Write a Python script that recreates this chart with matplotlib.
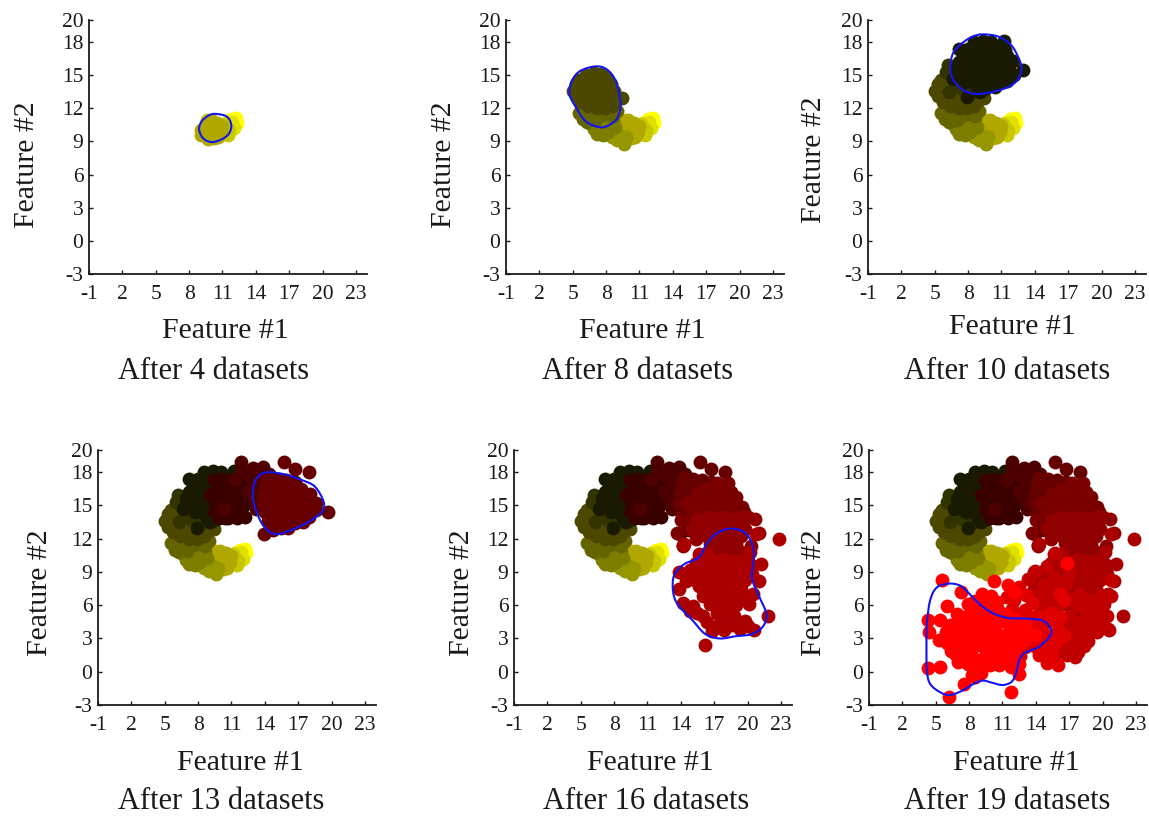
"""Six scatter panels showing how the tracked cluster drifts as datasets arrive."""
import matplotlib

matplotlib.use("Agg")
import matplotlib.pyplot as plt
from matplotlib.patches import PathPatch
from matplotlib.path import Path

plt.rcParams["font.family"] = ["Liberation Serif", "DejaVu Serif"]
plt.rcParams["axes.unicode_minus"] = False

FIG_W, FIG_H = 1149, 817
_TEXT_COLOR = "#1a1a1a"
_CURVE_COLOR = "#1414f0"

X_TICKS = [-1, 2, 5, 8, 11, 14, 17, 20, 23]
Y_TICKS = [-3, 0, 3, 6, 9, 12, 15, 18, 20]

STAGE_COLORS = [
    "#ffff00", "#e0e000", "#c8c800", "#b0a800", "#969600", "#7d7d00", "#656500",
    "#4d4800", "#333300", "#1a1a00", "#3a0000", "#4d0000", "#660000", "#7a0000",
    "#900000", "#aa0000", "#c00000", "#e00000", "#ff0000",
]

STAGE_01 = [(12.2, 11.1), (12.1, 10.9), (11.8, 11.0), (12.3, 10.7)]
STAGE_02 = [(11.9, 10.8), (12.0, 10.2), (11.6, 9.9), (11.3, 10.7), (11.8, 10.5)]
STAGE_03 = [(11.6, 10.0), (11.1, 9.9), (11.5, 9.6), (10.7, 10.5), (11.1, 10.6), (10.6, 9.8), (9.6, 10.9)]
STAGE_04 = [
    (9.1, 10.0), (9.5, 10.6), (10.0, 10.9), (10.5, 10.7), (11.0, 10.4), (10.9, 9.9), (10.6, 9.4),
    (10.2, 9.3), (9.6, 9.4), (9.9, 10.0), (10.5, 10.0), (9.1, 9.6), (9.7, 9.2),
]
STAGE_05 = [
    (9.6, 8.8), (9.0, 9.1), (8.5, 9.4), (9.8, 9.4), (8.9, 9.7), (8.3, 9.7), (9.3, 9.5),
]
STAGE_06 = [
    (7.7, 9.6), (7.2, 9.7), (6.9, 10.1), (8.2, 9.9), (8.8, 10.3), (7.5, 10.4), (8.0, 10.6),
    (6.6, 10.6), (7.1, 11.0), (8.6, 10.9), (7.8, 11.0),
]
STAGE_07 = [
    (5.6, 11.6), (5.9, 11.0), (6.3, 10.8), (7.0, 10.9), (7.5, 11.4), (8.2, 11.5), (9.0, 11.8),
    (8.6, 11.3), (6.5, 11.6), (6.9, 12.0), (7.7, 12.0), (6.2, 11.3),
]
STAGE_08 = [
    (5.0, 13.6), (5.3, 14.2), (5.6, 14.6), (6.2, 15.0), (6.9, 15.2), (7.5, 15.1), (8.0, 14.8),
    (8.4, 14.2), (8.7, 13.6), (9.4, 12.9), (8.8, 12.6), (8.5, 12.2), (7.9, 12.0), (7.2, 12.0),
    (6.4, 12.2), (5.7, 12.6), (5.3, 13.1), (6.0, 13.5), (6.8, 13.5), (7.6, 13.4), (6.4, 14.3),
    (7.2, 14.4), (6.6, 12.8), (7.5, 12.7), (8.0, 13.5), (7.9, 12.9), (5.5, 13.9), (7.0, 13.0),
    (6.1, 12.7), (7.8, 14.2), (5.9, 14.1), (8.4, 13.0),
]
STAGE_09 = [(6.3, 13.5), (7.4, 13.8), (6.2, 15.9), (6.7, 15.2), (7.5, 14.2), (8.4, 13.5), (6.0, 15.3)]
STAGE_10 = [
    (8.5, 18.0), (9.3, 18.1), (10.1, 18.0), (11.2, 18.1),
    (7.2, 17.4), (8.0, 17.4), (8.8, 17.5), (9.6, 17.4), (10.4, 17.5), (11.3, 17.3),
    (7.5, 16.8), (8.3, 16.8), (9.1, 16.9), (9.9, 16.8), (10.7, 16.8), (11.5, 16.7),
    (7.2, 16.2), (8.0, 16.2), (8.8, 16.2), (9.6, 16.2), (10.4, 16.2), (11.2, 16.1), (12.0, 16.3),
    (6.9, 15.6), (7.7, 15.6), (8.5, 15.6), (9.3, 15.6), (10.1, 15.6), (10.9, 15.6), (11.7, 15.6),
    (12.95, 15.5), (7.2, 15.0), (8.0, 15.0), (8.8, 15.0), (9.6, 15.0), (10.4, 15.0), (11.2, 15.0),
    (12.1, 15.0), (7.7, 14.4), (8.5, 14.4), (9.3, 14.4), (10.1, 14.4), (10.9, 14.4), (11.5, 14.5),
    (8.8, 13.9), (9.6, 13.8), (10.4, 13.9), (7.9, 13.0), (6.6, 14.7), (9.1, 13.5),
]
STAGE_11 = [
    (9.4, 17.3), (10.2, 17.4), (11.0, 17.3), (11.8, 17.2), (12.5, 17.2),
    (9.8, 16.6), (10.6, 16.6), (11.4, 16.6), (12.2, 16.6),
    (9.1, 15.9), (9.9, 15.9), (10.7, 15.9), (11.5, 15.9), (12.3, 15.9),
    (9.6, 15.2), (10.4, 15.2), (11.2, 15.2), (12.0, 15.2),
    (9.5, 14.5), (10.3, 14.5), (11.1, 14.5), (11.9, 14.5),
    (9.9, 13.9), (10.7, 13.9), (11.5, 13.9), (12.2, 14.0),
]
STAGE_12 = [
    (11.9, 18.9), (12.9, 18.4), (13.8, 18.5), (11.9, 18.1), (12.7, 17.7), (13.5, 17.7), (14.4, 17.8),
    (11.3, 17.3), (13.1, 17.0), (13.9, 17.0), (14.7, 17.2), (12.5, 16.3), (13.3, 16.2), (14.1, 16.2),
    (14.9, 16.4), (15.8, 17.0), (13.0, 15.5), (13.8, 15.4), (14.6, 15.5), (15.4, 15.5), (10.3, 14.7),
    (13.2, 14.7), (14.0, 14.7),
]
STAGE_13 = [
    (15.7, 18.9), (16.7, 18.3), (18.0, 18.0), (14.3, 17.5), (15.1, 17.4), (15.9, 17.3), (16.7, 17.1),
    (14.1, 16.8), (14.9, 16.7), (15.7, 16.6), (16.5, 16.4), (17.3, 16.5), (18.1, 16.0), (13.9, 16.0),
    (14.7, 15.9), (15.5, 15.8), (16.3, 15.7), (17.1, 15.7), (17.9, 15.4), (18.6, 15.2), (13.8, 15.2),
    (14.6, 15.1), (15.4, 15.0), (16.2, 15.0), (17.0, 14.9), (17.8, 14.7), (18.6, 14.6), (19.7, 14.4),
    (14.0, 14.4), (14.8, 14.3), (15.6, 14.2), (16.4, 14.2), (17.2, 14.1), (18.0, 14.0), (14.3, 13.6),
    (15.1, 13.5), (15.9, 13.5), (16.7, 13.4), (17.4, 13.5), (14.7, 12.8), (13.9, 12.4), (15.5, 13.0),
    (16.1, 13.0),
]
STAGE_14 = [
    (18.2, 17.0), (19.0, 15.8), (19.5, 14.9), (17.3, 17.0), (16.3, 16.5), (15.5, 16.0), (17.0, 16.0),
    (17.8, 16.0), (18.5, 16.2), (14.5, 15.2), (15.3, 15.0), (16.1, 15.2), (16.9, 15.2), (17.7, 15.1),
    (18.4, 15.0), (15.0, 14.4), (15.8, 14.4), (16.6, 14.5), (17.4, 14.5), (18.2, 14.3), (15.3, 13.6),
    (16.1, 13.6), (13.7, 12.5), (14.9, 13.0), (14.2, 11.4), (14.0, 13.7),
]
STAGE_15 = [
    (20.0, 14.0), (20.7, 13.8), (19.4, 14.0), (18.7, 13.8), (17.9, 14.0), (17.1, 13.9), (16.4, 14.0),
    (15.5, 13.7), (15.0, 12.9), (15.8, 13.0), (16.6, 13.1), (17.4, 13.2), (18.2, 13.1), (19.0, 13.0),
    (19.8, 12.9), (21.0, 12.5), (15.4, 12.0), (16.2, 12.3), (17.0, 12.4), (17.8, 12.4), (18.6, 12.3),
    (19.4, 12.2), (14.2, 11.3), (16.6, 11.6), (17.4, 11.7), (18.2, 11.6), (19.0, 11.5), (20.3, 11.3),
    (15.8, 10.5), (17.0, 11.0), (17.8, 10.9), (18.6, 10.8), (19.4, 10.8),
]
STAGE_16 = [
    (22.8, 12.0), (17.0, 10.0), (17.8, 10.2), (18.6, 10.0), (19.4, 10.0), (20.2, 10.8), (21.2, 9.7),
    (20.2, 9.7), (13.8, 9.0), (14.8, 9.2), (15.6, 9.1), (16.4, 9.2), (17.2, 9.2), (18.0, 9.3),
    (18.8, 9.2), (19.6, 9.1), (15.8, 8.3), (16.6, 8.4), (17.4, 8.5), (18.2, 8.5), (19.0, 8.4),
    (19.8, 8.3), (21.0, 8.2), (13.8, 7.5), (16.2, 7.6), (17.0, 7.7), (17.8, 7.7), (18.6, 7.6),
    (19.4, 7.5), (16.0, 6.8), (16.8, 6.9), (17.6, 6.9), (18.4, 6.8), (19.2, 6.8), (20.0, 6.7),
    (14.2, 6.2), (15.1, 5.9), (16.6, 6.1), (17.4, 6.1), (18.2, 6.0), (19.0, 6.0), (20.1, 6.1),
    (14.8, 5.5), (16.0, 5.0), (17.3, 5.3), (18.1, 5.2), (18.8, 5.0), (19.8, 4.6), (21.8, 5.0),
    (17.5, 4.4), (17.9, 3.8), (20.6, 3.8), (16.2, 2.4), (14.5, 8.2), (15.3, 8.3), (15.5, 5.3),
    (16.4, 4.5), (16.8, 3.7), (18.6, 4.2), (19.3, 3.9), (20.0, 4.1), (20.5, 7.0), (20.4, 8.8),
    (15.4, 9.8), (16.0, 10.0), (16.4, 10.6), (15.6, 7.7), (20.8, 12.4), (14.3, 11.5), (15.6, 10.6),
]
STAGE_17 = [
    (20.8, 8.3), (20.5, 3.9), (19.9, 6.9), (20.0, 6.0), (18.7, 2.8), (17.8, 1.8), (17.5, 1.3),
    (16.6, 2.5), (13.3, 8.4), (13.9, 9.1), (15.0, 9.5), (15.7, 10.7), (14.7, 7.8), (13.9, 7.0),
    (15.0, 7.0), (16.0, 7.5), (17.0, 8.8), (18.0, 7.0), (19.0, 6.5), (16.0, 6.0), (17.0, 5.0),
    (18.0, 4.5), (19.0, 4.8), (17.0, 3.5), (18.0, 3.0), (19.5, 4.5), (14.5, 5.5), (15.5, 4.8),
    (17.7, 6.1), (17.0, 6.6), (18.6, 5.6), (17.6, 3.9), (16.4, 4.2), (15.3, 6.2), (14.3, 6.4),
    (18.4, 3.6), (16.9, 2.8), (17.3, 2.3), (16.0, 1.8), (16.7, 7.9), (15.6, 8.5), (15.8, 5.7),
    (18.3, 5.8), (19.3, 5.4), (19.5, 3.6), (16.0, 3.0), (16.8, 1.5), (18.3, 2.3), (17.6, 2.8),
    (18.9, 3.8), (20.4, 5.0), (20.8, 6.8),
]
STAGE_18 = [
    (13.1, 6.9), (16.2, 7.0), (16.5, 6.5), (12.0, 6.5), (13.0, 5.6), (14.0, 5.0), (15.0, 4.5),
    (16.0, 3.8), (15.2, 3.2), (14.0, 4.2), (13.3, 3.5), (15.0, 2.2), (14.0, 2.2), (16.5, 3.2),
    (12.0, 4.5), (13.0, 2.2), (14.3, 1.5), (15.5, 1.6), (12.6, 1.4), (16.0, 0.6), (15.0, 0.8),
    (11.9, 5.7), (12.5, 5.0), (13.5, 4.9), (14.7, 4.9), (15.4, 5.3), (16.2, 4.9), (14.6, 3.7),
    (13.5, 2.9), (14.5, 2.8), (15.8, 2.7), (12.5, 7.6), (13.7, 6.2), (11.4, 6.7),
]
STAGE_19 = [
    (5.55, 8.3), (10.2, 8.2), (7.3, 7.2), (6.0, 5.95), (9.2, 7.0), (10.0, 6.85), (4.3, 4.7),
    (5.4, 4.7), (4.4, 3.6), (4.3, 0.3), (5.4, 0.45), (6.2, -2.3), (11.8, -1.8), (7.5, -1.1),
    (8.3, -0.3), (11.5, 7.8), (12.5, 0.7), (12.5, -0.2), (16.8, 9.8), (12.0, 7.2),
    (5.3, 2.9), (5.9, 3.6), (6.3, 4.2), (6.9, 5.2), (7.9, 6.1), (8.5, 6.4), (6.0, 2.6),
    (7.0, 0.9), (7.9, 0.7), (9.0, 0.7), (9.9, 0.6), (10.7, 0.6), (11.8, 0.4), (11.5, 2.2),
    (12.1, 2.0), (6.6, 3.4), (7.2, 4.1), (7.9, 4.9), (8.7, 5.3), (9.4, 5.9), (10.2, 5.1),
    (10.9, 4.6), (11.7, 4.4), (12.6, 3.9), (13.4, 3.2), (6.4, 1.9), (7.2, 2.4), (8.0, 3.0),
    (8.8, 3.8), (9.6, 4.2), (10.4, 3.6), (11.2, 3.2), (12.2, 3.0), (7.4, 1.5), (8.2, 1.8),
    (9.0, 2.4), (9.8, 2.8), (10.6, 2.4), (8.6, 0.2), (9.4, 1.4), (10.3, 1.3), (11.1, 1.4),
    (8.9, 4.6), (7.7, 3.5), (6.7, 2.5), (9.1, -0.1), (10.4, 4.5), (12.2, 4.7), (7.5, 4.9),
    (8.2, 4.2), (8.2, 5.4), (9.1, 5.0), (9.8, 5.2), (10.6, 5.6), (11.3, 5.2), (7.0, 3.3),
    (7.6, 2.9), (8.4, 2.6), (9.2, 3.1), (10.0, 3.4), (10.8, 3.0), (11.6, 3.7), (12.4, 2.4),
    (13.0, 4.2), (13.0, 2.9), (6.8, 1.5), (7.8, 2.2), (8.7, 1.1), (9.7, 2.0), (10.5, 1.8),
    (11.3, 2.6), (11.9, 1.2), (11.0, 0.9), (8.5, -0.5), (13.9, 3.3), (6.3, 3.0), (7.0, 4.6),
    (9.6, 6.3), (10.5, 6.3), (12.9, 3.4), (8.3, 0.9), (12.0, 3.8),
]
STAGES = [
    STAGE_01, STAGE_02, STAGE_03, STAGE_04, STAGE_05, STAGE_06, STAGE_07, STAGE_08, STAGE_09,
    STAGE_10, STAGE_11, STAGE_12, STAGE_13, STAGE_14, STAGE_15, STAGE_16, STAGE_17, STAGE_18,
    STAGE_19,
]

CURVE_4 = [
    (10.35, 11.5), (11.4, 11.25), (11.8, 10.4), (11.4, 9.5), (10.2, 8.95), (9.3, 9.25), (8.9, 10.1),
    (9.15, 10.85), (9.75, 11.35),
]
CURVE_8 = [
    (7.07, 15.8), (8.1, 15.5), (8.9, 14.4), (9.3, 12.45), (9.0, 11.1), (8.1, 10.4), (7.4, 10.3),
    (6.2, 10.8), (5.25, 12.15), (4.7, 13.35), (4.95, 14.55), (5.7, 15.4),
]
CURVE_10 = [
    (9.3, 18.7), (10.7, 18.5), (11.9, 17.7), (12.6, 16.4), (12.8, 15.5), (12.3, 14.4), (11.0, 13.7),
    (8.85, 13.3), (7.5, 13.7), (6.6, 14.7), (6.4, 15.8), (6.7, 17.1), (7.6, 18.0), (8.4, 18.5),
]
CURVE_13 = [
    (14.3, 18.0), (15.8, 17.8), (17.3, 17.3), (18.5, 16.7), (19.3, 15.3), (19.1, 14.4), (17.9, 13.5),
    (16.4, 12.8), (15.0, 12.4), (14.0, 13.0), (13.3, 14.3), (12.9, 15.8), (13.1, 17.1), (13.5, 17.7),
]
CURVE_16 = [
    (18.3, 12.9), (19.5, 12.7), (20.2, 12.0), (20.6, 10.6), (20.4, 8.5), (21.0, 6.9), (21.7, 5.2),
    (21.4, 4.1), (20.4, 3.4), (18.9, 3.2), (17.5, 3.0), (16.2, 3.4), (15.0, 4.7), (13.7, 6.1),
    (13.3, 7.3), (13.4, 8.7), (14.3, 9.7), (15.6, 10.3), (16.3, 11.5), (17.1, 12.4),
]
CURVE_19 = [
    (6.19, 7.95), (7.25, 7.74), (8.15, 6.9), (9.06, 6.0), (10.1, 5.3), (11.5, 4.85), (13.1, 4.8),
    (14.65, 4.6), (15.4, 3.74), (15.1, 3.0), (14.2, 2.2), (13.0, 1.7), (12.5, 1.0), (12.2, -0.2),
    (11.8, -0.93), (11.0, -1.2), (10.1, -1.0), (9.2, -0.8), (8.3, -1.15), (7.4, -1.7), (6.3, -2.1),
    (5.4, -1.85), (4.5, -1.1), (4.2, 0.1), (4.17, 2.2), (4.2, 4.3), (4.5, 6.45), (5.1, 7.6),
]

DATASET_COUNTS = [4, 8, 10, 13, 16, 19]
CURVES = [CURVE_4, CURVE_8, CURVE_10, CURVE_13, CURVE_16, CURVE_19]

# Pixel layout: axes left/top/right/bottom, then text anchors.
AXES_PX = [
    (89, 20, 367, 274), (506, 20, 784, 274), (868, 20, 1146, 274),
    (98, 450, 376, 705), (514, 450, 792, 705), (869, 450, 1147, 705),
]
XLABEL_PX = [(225, 331), (642, 331), (1012, 327), (240, 763), (650, 763), (1016, 763)]
YLABEL_PX = [(27, 165), (444, 165), (814, 160), (40, 593), (462, 593), (814, 593)]
# Captions are anchored on their baseline; the lower row sits right at the figure edge.
CAPTION_PX = [(214, 379), (638, 379), (1007, 379), (221, 809), (646, 809), (1007, 809)]


def fig_xy(px, py):
    return px / FIG_W, 1 - py / FIG_H


def closed_smooth_path(pts):
    # Bezier segments through the read vertices so the outline is not faceted.
    n = len(pts)
    verts = [pts[0]]
    codes = [Path.MOVETO]
    for k in range(n):
        p0, p1, p2, p3 = pts[k - 1], pts[k], pts[(k + 1) % n], pts[(k + 2) % n]
        verts.append((p1[0] + (p2[0] - p0[0]) / 6, p1[1] + (p2[1] - p0[1]) / 6))
        verts.append((p2[0] - (p3[0] - p1[0]) / 6, p2[1] - (p3[1] - p1[1]) / 6))
        verts.append(p2)
        codes += [Path.CURVE4] * 3
    return Path(verts, codes)


fig = plt.figure(figsize=(FIG_W / 100, FIG_H / 100), dpi=100, facecolor="white")

for i, count in enumerate(DATASET_COUNTS):
    left, top, right, bottom = AXES_PX[i]
    ax = fig.add_axes([
        left / FIG_W, 1 - bottom / FIG_H, (right - left) / FIG_W, (bottom - top) / FIG_H,
    ])

    # Later datasets paint over earlier ones, as in the original.
    for pts, color in zip(STAGES[:count], STAGE_COLORS[:count]):
        xs = [p[0] for p in pts]
        ys = [p[1] for p in pts]
        ax.scatter(xs, ys, s=100, color=color, linewidths=0, clip_on=False, zorder=2)

    ax.add_patch(PathPatch(
        closed_smooth_path(CURVES[i]), facecolor="none", edgecolor=_CURVE_COLOR, lw=1.5, zorder=3,
    ))

    ax.set_xlim(-1, 24)
    ax.set_ylim(-3, 20)
    ax.set_xticks(X_TICKS)
    ax.set_yticks(Y_TICKS)
    ax.tick_params(direction="in", length=3, width=1.0, labelsize=15.5, colors=_TEXT_COLOR)
    ax.tick_params(axis="x", pad=8)
    ax.tick_params(axis="y", pad=4)
    for side in ("top", "right"):
        ax.spines[side].set_visible(False)
    for side in ("left", "bottom"):
        ax.spines[side].set_linewidth(1.3)
        ax.spines[side].set_color(_TEXT_COLOR)

    fx, fy = fig_xy(*XLABEL_PX[i])
    fig.text(fx, fy, "Feature #1", fontsize=21.5, color=_TEXT_COLOR, ha="center", va="center")
    fx, fy = fig_xy(*YLABEL_PX[i])
    fig.text(
        fx, fy, "Feature #2", fontsize=21.5, color=_TEXT_COLOR,
        rotation=90, ha="center", va="center",
    )
    fx, fy = fig_xy(*CAPTION_PX[i])
    fig.text(
        fx, fy, f"After {count} datasets", fontsize=22, color=_TEXT_COLOR,
        ha="center", va="baseline",
    )

fig.savefig("out.png", dpi=100, facecolor="white")
plt.close(fig)
